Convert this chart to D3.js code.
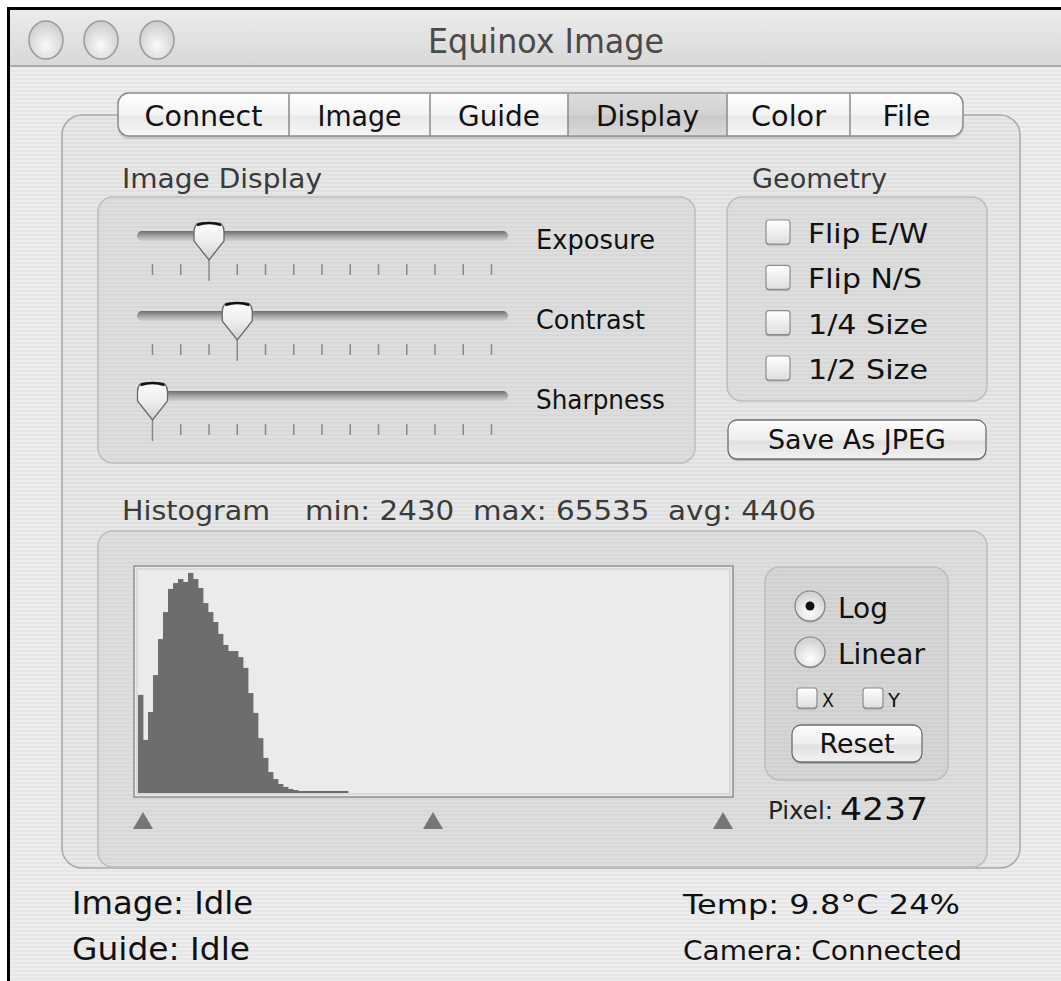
<!DOCTYPE html>
<html><head><meta charset="utf-8">
<script src="https://cdn.jsdelivr.net/npm/d3@7"></script>
<style>html,body{margin:0;padding:0;background:#fff;overflow:hidden}svg{display:block}text{white-space:pre}</style>
</head><body>
<script>
// ---------------- data ----------------
const windowTitle = "Equinox Image";
const tabLabels = ["Connect", "Image", "Guide", "Display", "Color", "File"];
const selectedTab = "Display";
const sliderNames = ["Exposure", "Contrast", "Sharpness"];
const sliderValues = [2, 3, 0];          // tick index of each thumb
const sliderTickCount = 13;
const geometryOptions = ["Flip E/W", "Flip N/S", "1/4 Size", "1/2 Size"];
const histStats = { min: 2430, max: 65535, avg: 4406 };
// histogram bar heights (log display, % of plot height), one per bin
const histValues = [43.6, 23.6, 36.0, 52.4, 68.4, 80.4, 90.7, 93.3, 95.1, 93.8,
  97.8, 95.1, 91.1, 84.4, 80.4, 76.0, 70.7, 65.8, 63.1, 63.1,
  60.4, 55.6, 44.4, 35.6, 24.4, 15.6, 9.3, 6.2, 4.0, 2.7,
  1.8, 1.3, 0.9, 0.9, 0.9, 0.9, 0.9, 0.9, 0.9, 0.9, 0.9, 0.9];
const histBinCount = 119;
const markerBins = [1, 59, 117];         // black / mid / white point markers
const scaleModes = ["Log", "Linear"];
const selectedMode = "Log";
const axisFlags = ["X", "Y"];
const pixelValue = 4237;
const statusLeft = ["Image: Idle", "Guide: Idle"];
const statusRight = ["Temp: 9.8°C 24%", "Camera: Connected"];

// ---------------- layout ----------------
const W = 1061, H = 981;
const FONT = "'Lucida Grande','DejaVu Sans',sans-serif";
const svg = d3.select("body").append("svg").attr("width", W).attr("height", H)
  .style("font-family", FONT);
const defs = svg.append("defs");

function lg(id, stops, vertical = true) {
  const g = defs.append("linearGradient").attr("id", id)
    .attr("x1", 0).attr("y1", 0).attr("x2", vertical ? 0 : 1).attr("y2", vertical ? 1 : 0);
  stops.forEach(([o, c]) => g.append("stop").attr("offset", o).attr("stop-color", c));
}
lg("titleGrad", [[0, "#ececec"], [1, "#d8d8d8"]]);
lg("tabGrad", [[0, "#ffffff"], [0.5, "#f3f3f3"], [0.55, "#e9e9e9"], [1, "#f6f6f6"]]);
lg("tabSelGrad", [[0, "#dcdcdc"], [0.5, "#d2d2d2"], [0.55, "#c9c9c9"], [1, "#d9d9d9"]]);
lg("btnGrad", [[0, "#fdfdfd"], [0.5, "#eeeeee"], [0.55, "#e0e0e0"], [1, "#f2f2f2"]]);
lg("trackGrad", [[0, "#6f6f6f"], [0.5, "#a5a5a5"], [1, "#d0d0d0"]]);
lg("thumbGrad", [[0, "#ffffff"], [0.6, "#e9e9e9"], [1, "#cfcfcf"]]);
lg("boxGrad", [[0, "#ffffff"], [1, "#dedede"]]);
const rg = defs.append("radialGradient").attr("id", "radioGrad").attr("cx", 0.5).attr("cy", 0.7).attr("r", 0.6);
rg.append("stop").attr("offset", 0).attr("stop-color", "#ffffff");
rg.append("stop").attr("offset", 1).attr("stop-color", "#d4d4d4");
const tl = defs.append("radialGradient").attr("id", "lightGrad").attr("cx", 0.5).attr("cy", 0.65).attr("r", 0.6);
tl.append("stop").attr("offset", 0).attr("stop-color", "#fafafa");
tl.append("stop").attr("offset", 1).attr("stop-color", "#cfcfcf");
const pin = defs.append("pattern").attr("id", "pin").attr("width", 8).attr("height", 4)
  .attr("patternUnits", "userSpaceOnUse");
pin.append("rect").attr("width", 8).attr("height", 4).attr("fill", "#ededed");
pin.append("rect").attr("y", 2).attr("width", 8).attr("height", 2).attr("fill", "#e6e6e6");

function txt(g, s, x, y, size, width, opt = {}) {
  const t = g.append("text").attr("x", x).attr("y", y).attr("font-size", size)
    .attr("fill", opt.fill || "#1e1e1e").attr("text-anchor", opt.anchor || "start").text(s);
  if (width) t.attr("textLength", width).attr("lengthAdjust", "spacingAndGlyphs");
  return t;
}

// window frame
svg.append("rect").attr("x", 8).attr("y", 8).attr("width", W).attr("height", H).attr("fill", "url(#pin)");
svg.append("rect").attr("x", 8).attr("y", 8).attr("width", W).attr("height", 58).attr("fill", "url(#titleGrad)");
svg.append("line").attr("x1", 8).attr("x2", W).attr("y1", 66).attr("y2", 66).attr("stroke", "#9a9a9a").attr("stroke-width", 1.5);
svg.append("rect").attr("x", 7).attr("y", 7).attr("width", W).attr("height", 3).attr("fill", "#000");
svg.append("rect").attr("x", 7).attr("y", 7).attr("width", 3).attr("height", H).attr("fill", "#000");

// traffic lights (graphite)
[46, 101, 157].forEach(cx => {
  svg.append("ellipse").attr("cx", cx).attr("cy", 40).attr("rx", 17).attr("ry", 19)
    .attr("fill", "url(#lightGrad)").attr("stroke", "#9a9a9a").attr("stroke-width", 1.5);
});
txt(svg, windowTitle, 546, 53, 34, 236, { anchor: "middle", fill: "#4a4a4a" });

// tab view box
svg.append("rect").attr("x", 62).attr("y", 115).attr("width", 958).attr("height", 753).attr("rx", 20)
  .attr("fill", "rgba(0,0,0,0.025)").attr("stroke", "#a9a9a9").attr("stroke-width", 1.5);

// segmented tabs
const tabEdges = [118, 289, 430, 568, 727, 850, 963];
const tabWidths = [118, 84, 82, 103, 75, 48];
const tabG = svg.append("g");
tabG.append("rect").attr("x", 118).attr("y", 95).attr("width", 845).attr("height", 44).attr("rx", 11)
  .attr("fill", "rgba(0,0,0,0.12)");
tabG.append("rect").attr("x", 118).attr("y", 93).attr("width", 845).attr("height", 43).attr("rx", 11)
  .attr("fill", "url(#tabGrad)").attr("stroke", "#8a8a8a").attr("stroke-width", 1.5);
const si = tabLabels.indexOf(selectedTab);
tabG.append("rect").attr("x", tabEdges[si]).attr("y", 94).attr("width", tabEdges[si + 1] - tabEdges[si]).attr("height", 41)
  .attr("fill", "url(#tabSelGrad)");
tabEdges.slice(1, -1).forEach(x => tabG.append("line").attr("x1", x).attr("x2", x).attr("y1", 94).attr("y2", 136)
  .attr("stroke", "#8a8a8a").attr("stroke-width", 1.5));
tabLabels.forEach((s, i) => txt(tabG, s, (tabEdges[i] + tabEdges[i + 1]) / 2, 126, 28, tabWidths[i], { anchor: "middle", fill: "#111" }));

// group boxes
function groupBox(x, y, w, h) {
  svg.append("rect").attr("x", x).attr("y", y).attr("width", w).attr("height", h).attr("rx", 15)
    .attr("fill", "rgba(0,0,0,0.035)").attr("stroke", "#bdbdbd").attr("stroke-width", 1.5);
}
txt(svg, "Image Display", 122, 188, 26, 200, { fill: "#3a3a3a" });
txt(svg, "Geometry", 752, 188, 26, 135, { fill: "#3a3a3a" });
groupBox(98, 197, 597, 266);
groupBox(727, 197, 260, 204);

// sliders
const sliderX = d3.scaleLinear().domain([0, sliderTickCount - 1]).range([152.5, 491.5]);
const sliderRowY = d3.scalePoint().domain(sliderNames).range([236, 396]);
const sliderLabelW = [119, 109, 129];
sliderNames.forEach((name, i) => {
  const cy = sliderRowY(name);
  const g = svg.append("g");
  g.append("rect").attr("x", 137).attr("y", cy - 5).attr("width", 371).attr("height", 10).attr("rx", 5)
    .attr("fill", "url(#trackGrad)");
  d3.range(sliderTickCount).forEach(t => {
    if (t === sliderValues[i]) return;
    g.append("line").attr("x1", sliderX(t)).attr("x2", sliderX(t)).attr("y1", cy + 28).attr("y2", cy + 39)
      .attr("stroke", "#8a8a8a").attr("stroke-width", 1.5);
  });
  const tx = sliderX(sliderValues[i]);
  g.append("line").attr("x1", tx).attr("x2", tx).attr("y1", cy + 22).attr("y2", cy + 45)
    .attr("stroke", "#8a8a8a").attr("stroke-width", 1.5);
  g.append("path").attr("d", `M${tx - 15},${cy - 4} Q${tx - 15},${cy - 13} ${tx - 8},${cy - 13} L${tx + 8},${cy - 13} Q${tx + 15},${cy - 13} ${tx + 15},${cy - 4} L${tx + 15},${cy + 5} L${tx},${cy + 24} L${tx - 15},${cy + 5} Z`)
    .attr("fill", "url(#thumbGrad)").attr("stroke", "#6a6a6a").attr("stroke-width", 1.3);
  g.append("path").attr("d", `M${tx - 12},${cy - 11} Q${tx},${cy - 15} ${tx + 12},${cy - 11}`)
    .attr("fill", "none").attr("stroke", "#111").attr("stroke-width", 2.5);
  txt(g, name, 536, cy + 13, 27, sliderLabelW[i], { fill: "#111" });
});

// geometry checkboxes
const geoY = d3.scalePoint().domain(geometryOptions).range([232, 368]);
const geoW = [120, 114, 120, 120];
function checkbox(x, y, s) {
  svg.append("rect").attr("x", x).attr("y", y + 1.5).attr("width", s).attr("height", s).attr("rx", 3).attr("fill", "rgba(0,0,0,0.25)");
  svg.append("rect").attr("x", x).attr("y", y).attr("width", s).attr("height", s).attr("rx", 3)
    .attr("fill", "url(#boxGrad)").attr("stroke", "#8c8c8c").attr("stroke-width", 1.2);
}
geometryOptions.forEach((s, i) => {
  const cy = geoY(s);
  checkbox(766, cy - 12, 24);
  txt(svg, s, 808, cy + 11, 27, geoW[i], { fill: "#111" });
});

function button(x, y, w, h, label, lw, size) {
  svg.append("rect").attr("x", x).attr("y", y + 2).attr("width", w).attr("height", h).attr("rx", 9).attr("fill", "rgba(0,0,0,0.2)");
  svg.append("rect").attr("x", x).attr("y", y).attr("width", w).attr("height", h).attr("rx", 9)
    .attr("fill", "url(#btnGrad)").attr("stroke", "#6e6e6e").attr("stroke-width", 1.3);
  txt(svg, label, x + w / 2, y + h / 2 + size * 0.36, size, lw, { anchor: "middle", fill: "#111" });
}
button(728, 420, 258, 39, "Save As JPEG", 178, 26);

// histogram header
txt(svg, "Histogram", 122, 520, 26, 148, { fill: "#3a3a3a" });
txt(svg, `min: ${histStats.min}  max: ${histStats.max}  avg: ${histStats.avg}`, 305, 520, 26, 511, { fill: "#3a3a3a" });
groupBox(98, 531, 889, 336);

// histogram plot
const hx = d3.scaleLinear().domain([0, histBinCount]).range([138, 733]);
const hy = d3.scaleLinear().domain([0, 100]).range([793, 568]);
const hg = svg.append("g");
hg.append("rect").attr("x", 134).attr("y", 566).attr("width", 599).attr("height", 231)
  .attr("fill", "#ebebeb").attr("stroke", "#8e8e8e").attr("stroke-width", 1.5);
hg.append("rect").attr("x", 137).attr("y", 569).attr("width", 593).attr("height", 225)
  .attr("fill", "none").attr("stroke", "#c9c9c9").attr("stroke-width", 1);
hg.selectAll("rect.bar").data(histValues).join("rect").attr("class", "bar")
  .attr("x", (d, i) => hx(i)).attr("width", (d, i) => hx(i + 1) - hx(i) + 0.4)
  .attr("y", d => hy(d)).attr("height", d => hy(0) - hy(d)).attr("fill", "#6d6d6d");
hg.selectAll("path.marker").data(markerBins).join("path").attr("class", "marker")
  .attr("d", d => { const x = hx(d); return `M${x},812 L${x + 10},829 L${x - 10},829 Z`; })
  .attr("fill", "#767676");

// scale controls
groupBox(765, 567, 183, 213);
const modeY = d3.scalePoint().domain(scaleModes).range([606, 652]);
const modeW = [50, 87];
scaleModes.forEach((m, i) => {
  const cy = modeY(m);
  svg.append("circle").attr("cx", 810).attr("cy", cy + 1.5).attr("r", 15).attr("fill", "rgba(0,0,0,0.25)");
  svg.append("circle").attr("cx", 810).attr("cy", cy).attr("r", 15).attr("fill", "url(#radioGrad)")
    .attr("stroke", "#808080").attr("stroke-width", 1.2);
  if (m === selectedMode) svg.append("circle").attr("cx", 810).attr("cy", cy).attr("r", 4.5).attr("fill", "#111");
  txt(svg, m, 838, cy + 12, 28, modeW[i], { fill: "#111" });
});
const flagX = d3.scalePoint().domain(axisFlags).range([797, 863]);
axisFlags.forEach(f => {
  checkbox(flagX(f), 688, 20);
  txt(svg, f, flagX(f) + 25, 707, 19, 12, { fill: "#111" });
});
button(792, 725, 130, 37, "Reset", 75, 26);
txt(svg, "Pixel:", 768, 819, 24, 65, { fill: "#222" });
txt(svg, String(pixelValue), 840, 820, 32, 88, { fill: "#111" });

// status lines
const statusY = d3.scalePoint().domain([0, 1]).range([914, 960]);
const leftW = [181, 178], rightW = [277, 279];
statusLeft.forEach((s, i) => txt(svg, s, 72, statusY(i), 32, leftW[i], { fill: "#111" }));
statusRight.forEach((s, i) => txt(svg, s, 683, statusY(i), 26, rightW[i], { fill: "#111" }));
</script>
</body></html>
